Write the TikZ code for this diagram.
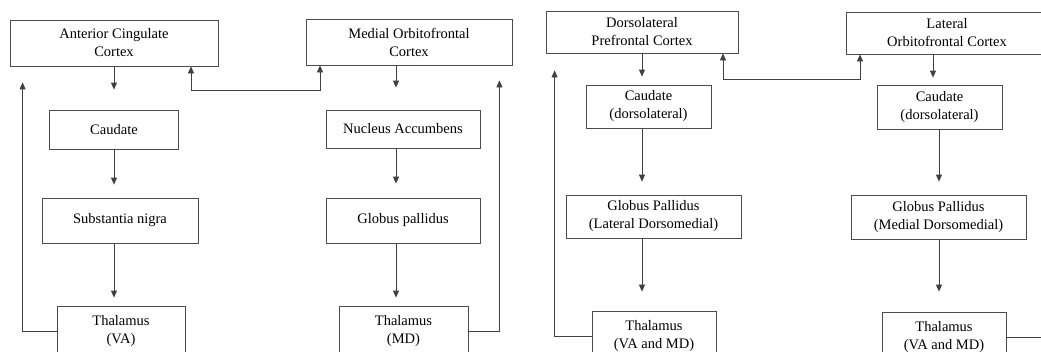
\documentclass[tikz,border=0pt]{standalone}
\usepackage{fontspec}
\setmainfont{Liberation Serif}
\usetikzlibrary{arrows.meta}
\tikzset {
  % brain region box
  region/.style = {
    draw = black!70,
    line width = 0.8pt,
    rectangle,
    align = center,
    inner sep = 0pt,
    font = \fontsize{14.5pt}{18pt}\selectfont
  },
  boxsize/.style 2 args = {
    minimum width = #1,
    minimum height = #2
  },
  % path style with one arrow tip
  conn/.style = {
    draw = black!75,
    line width = 0.8pt,
    -{Triangle[length = 7pt, width = 6pt]}
  },
  % path style with a tip at each end
  twoway/.style = {
    conn,
    {Triangle[length = 7pt, width = 6pt]}-{Triangle[length = 7pt, width = 6pt]}
  }
}

\begin{document}
\begin{tikzpicture}[x = 1pt, y = -1pt]
    \useasboundingbox[fill = white] (0,0) rectangle (1041,351);
    \clip (0,0) rectangle (1041,351);

    % columns of the down arrows
    \coordinate (colA) at (114,0);
    \coordinate (colB) at (396,0);
    \coordinate (colC) at (642,0);
    \coordinate (colD) at (939,0);

    % left panel
    \node[region, boxsize = {208pt}{46pt}] (acc) at (114,43) {Anterior Cingulate\\Cortex};
    \node[region, boxsize = {206pt}{46pt}] (mofc) at (409,42) {Medial Orbitofrontal\\Cortex};
    \node[region, boxsize = {129pt}{39pt}] (caud) at (114,129.5) {Caudate};
    \node[region, boxsize = {154pt}{38pt}] (nacc) at (403,129) {Nucleus Accumbens};
    \node[region, boxsize = {156pt}{45pt}] (sn) at (120,220.5) {Substantia nigra};
    \node[region, boxsize = {154pt}{45pt}] (gp) at (403,220.5) {Globus pallidus};
    \node[region, boxsize = {128pt}{50pt}] (thva) at (121,331) {Thalamus\\(VA)};
    \node[region, boxsize = {129pt}{50pt}] (thmd) at (403.5,331) {Thalamus\\(MD)};

    % right panel
    \node[region, boxsize = {192pt}{42pt}] (dlpfc) at (642,32) {Dorsolateral\\Prefrontal Cortex};
    \node[region, boxsize = {202pt}{42pt}] (lofc) at (947,33) {Lateral\\Orbitofrontal Cortex};
    \node[region, boxsize = {125pt}{43pt}] (caudl) at (648.5,106.5) {Caudate\\(dorsolateral)};
    \node[region, boxsize = {125pt}{44pt}] (caudr) at (939.5,107) {Caudate\\(dorsolateral)};
    \node[region, boxsize = {175pt}{43pt}] (gpl) at (653.5,216.5) {Globus Pallidus\\(Lateral Dorsomedial)};
    \node[region, boxsize = {175pt}{44pt}] (gpm) at (938.5,217) {Globus Pallidus\\(Medial Dorsomedial)};
    \node[region, boxsize = {124pt}{50pt}] (thl) at (654,336) {Thalamus\\(VA and MD)};
    \node[region, boxsize = {124pt}{50pt}] (thr) at (944,337) {Thalamus\\(VA and MD)};

    % down the loops
    \draw[conn, shorten >= 20pt] (acc.south -| colA) -- (caud.north -| colA);
    \draw[conn, shorten >= 13pt] (caud.south -| colA) -- (sn.north -| colA);
    \draw[conn, shorten >= 8pt] (sn.south -| colA) -- (thva.north -| colA);
    \draw[conn, shorten >= 22pt] (mofc.south -| colB) -- (nacc.north -| colB);
    \draw[conn, shorten >= 14pt] (nacc.south -| colB) -- (gp.north -| colB);
    \draw[conn, shorten >= 8pt] (gp.south -| colB) -- (thmd.north -| colB);

    \draw[conn, shorten >= 8pt] (dlpfc.south -| colC) -- (caudl.north -| colC);
    \draw[conn, shorten >= 13pt] (caudl.south -| colC) -- (gpl.north -| colC);
    \draw[conn, shorten >= 19pt] (gpl.south -| colC) -- (thl.north -| colC);
    \draw[conn, shorten >= 7pt] ([xshift = -6pt]lofc.south -| colD) -- ([xshift = -6pt]caudr.north -| colD);
    \draw[conn, shorten >= 13pt] (caudr.south -| colD) -- (gpm.north -| colD);
    \draw[conn, shorten >= 20pt] (gpm.south -| colD) -- (thr.north -| colD);

    % back to cortex
    \draw[conn, shorten >= 16pt] (thva.west) -| ([xshift = 13pt]acc.south west);
    \draw[conn, shorten >= 15pt] (thmd.east) -| ([xshift = -13pt]mofc.south east);
    \draw[conn, shorten >= 17pt] (thl.west) -| ([xshift = 9pt]dlpfc.south west);
    \draw[conn, shorten >= 20pt] (thr.east) -| ([xshift = -4pt]lofc.south east);

    % between cortices
    \draw[twoway] ([xshift = 77pt]acc.south) -- ++(0,24) -| ([xshift = -89pt]mofc.south);
    \draw[twoway] ([xshift = 81pt]dlpfc.south) -- ++(0,26) -| ([xshift = -87pt]lofc.south);
\end{tikzpicture}
\end{document}
